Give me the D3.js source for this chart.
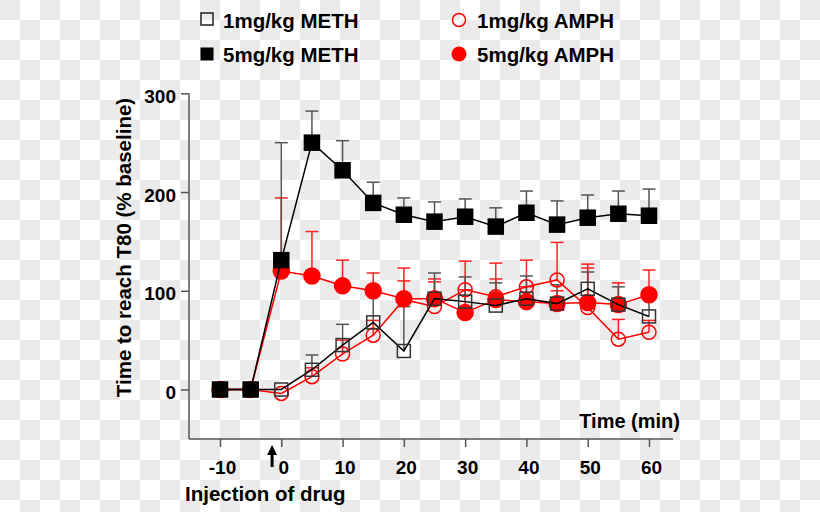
<!DOCTYPE html>
<html>
<head>
<meta charset="utf-8">
<script src="https://cdn.jsdelivr.net/npm/d3@7"></script>
<style>
  html, body { margin: 0; padding: 0; background: #fff; }
  svg { display: block; }
  text { font-family: "Liberation Sans", Arial, Helvetica, sans-serif; font-weight: bold; fill: #000; }
</style>
</head>
<body>
<svg id="chart" width="820" height="512"></svg>
<script>
// ---- data ----
const times = [-10, -5, 0, 5, 10, 15, 20, 25, 30, 35, 40, 45, 50, 55, 60];
const xTicks = [-10, 0, 10, 20, 30, 40, 50, 60];
const yTicks = [0, 100, 200, 300];

const meth1 = [0, 0, 0, 20, 45, 68, 39, 92, 89, 85, 92, 87, 102, 86, 74];
const meth1Top = [0, 0, 0, 35, 66, 98, 84, 118, 114, 108, 115, 106, 119, 104, 92];

const meth5 = [0, 0, 131, 250, 222, 189, 177, 170, 175, 165, 179, 167, 174, 178, 176];
const meth5Top = [0, 0, 250, 282, 252, 210, 194, 190, 193, 184, 201, 191, 197, 201, 203];

const amph1 = [0, 0, -4, 13, 36, 55, 91, 84, 101, 94, 104, 111, 83, 51, 58];
const amph1Top = [0, 0, -4, 22, 50, 70, 110, 109, 130, 112, 131, 149, 123, 71, 70];

const amph5 = [0, 0, 120, 115, 105, 100, 92, 92, 78, 91, 89, 87, 88, 86, 96];
const amph5Top = [0, 0, 194, 160, 131, 118, 123, 112, 101, 128, 104, 100, 127, 108, 121];

const legendLabels = ["1mg/kg METH", "5mg/kg METH", "1mg/kg AMPH", "5mg/kg AMPH"];

// ---- drawing ----
const svg = d3.select("#chart");
const W = 820, H = 512;

// checkerboard background (transparent-image look)
const defs = svg.append("defs");
const pat = defs.append("pattern").attr("id", "checker")
  .attr("width", 40).attr("height", 40).attr("patternUnits", "userSpaceOnUse");
pat.append("rect").attr("width", 40).attr("height", 40).attr("fill", "#ffffff");
pat.append("rect").attr("x", 0).attr("y", 0).attr("width", 20).attr("height", 20).attr("fill", "#ebebeb");
pat.append("rect").attr("x", 20).attr("y", 20).attr("width", 20).attr("height", 20).attr("fill", "#ebebeb");
svg.append("rect").attr("width", W).attr("height", H).attr("fill", "url(#checker)");

const x = d3.scaleLinear().domain([-10, 60]).range([220, 649]);
const y = d3.scaleLinear().domain([0, 300]).range([389.5, 93.3]);

const axisColor = "#555";
const axisX0 = 189, axisY0 = 439;

// axes lines
svg.append("line").attr("x1", axisX0).attr("x2", axisX0).attr("y1", y(300)).attr("y2", axisY0)
  .attr("stroke", axisColor).attr("stroke-width", 1.5);
svg.append("line").attr("x1", axisX0).attr("x2", 673).attr("y1", axisY0).attr("y2", axisY0)
  .attr("stroke", axisColor).attr("stroke-width", 1.5);

const yAxis = svg.append("g").attr("transform", `translate(${axisX0},0)`)
  .call(d3.axisLeft(y).tickValues(yTicks).tickSize(8).tickFormat(d => String(d)));
yAxis.select(".domain").remove();
yAxis.selectAll("line").attr("stroke", axisColor).attr("stroke-width", 1.5);
yAxis.selectAll("text").attr("x", -13).attr("dy", 0).attr("y", 9)
  .style("font-size", "19px").style("font-family", "'Liberation Sans', Arial, sans-serif").style("font-weight", "bold").attr("fill", "#000");

const xAxis = svg.append("g").attr("transform", `translate(0,${axisY0})`)
  .call(d3.axisBottom(x).tickValues(xTicks).tickSize(8).tickFormat(d => String(d)));
xAxis.select(".domain").remove();
xAxis.selectAll("line").attr("stroke", axisColor).attr("stroke-width", 1.5);
xAxis.selectAll("text").attr("y", 35).attr("dy", 0).attr("x", 2)
  .style("font-size", "19px").style("font-family", "'Liberation Sans', Arial, sans-serif").style("font-weight", "bold").attr("fill", "#000");

// axis titles
svg.append("text").attr("x", 680).attr("y", 428).attr("text-anchor", "end")
  .style("font-size", "20px").text("Time (min)");
svg.append("text").attr("transform", `translate(131,${(97 + 398) / 2}) rotate(-90)`)
  .attr("text-anchor", "middle").style("font-size", "20.5px").text("Time to reach T80 (% baseline)");
svg.append("text").attr("x", 185).attr("y", 501).style("font-size", "20.5px").text("Injection of drug");

// injection arrow
const ax = x(-1.5);
svg.append("line").attr("x1", ax).attr("x2", ax).attr("y1", 452).attr("y2", 467)
  .attr("stroke", "#000").attr("stroke-width", 3);
svg.append("path").attr("d", `M${ax},445 L${ax - 5},455 L${ax + 5},455 Z`).attr("fill", "#000");

// series
const series = [
  { vals: amph1, tops: amph1Top, color: "#ff0000", shape: "circle", filled: false, errColor: "#ff2020" },
  { vals: amph5, tops: amph5Top, color: "#ff0000", shape: "circle", filled: true, errColor: "#ff2020" },
  { vals: meth1, tops: meth1Top, color: "#000000", shape: "square", filled: false, errColor: "#555" },
  { vals: meth5, tops: meth5Top, color: "#000000", shape: "square", filled: true, errColor: "#555" }
];

const capW = 13;
// error bars first
series.forEach(s => {
  const g = svg.append("g");
  times.forEach((t, i) => {
    if (s.tops[i] <= s.vals[i]) return;
    const cx = x(t);
    g.append("line").attr("x1", cx).attr("x2", cx).attr("y1", y(s.vals[i])).attr("y2", y(s.tops[i]))
      .attr("stroke", s.errColor).attr("stroke-width", 1.5);
    g.append("line").attr("x1", cx - capW / 2).attr("x2", cx + capW / 2).attr("y1", y(s.tops[i])).attr("y2", y(s.tops[i]))
      .attr("stroke", s.errColor).attr("stroke-width", 1.5);
  });
});

const line = d3.line().x((d, i) => x(times[i])).y(d => y(d));

series.forEach(s => {
  svg.append("path").datum(s.vals).attr("d", line).attr("fill", "none")
    .attr("stroke", s.color).attr("stroke-width", 1.5);
  const g = svg.append("g");
  times.forEach((t, i) => {
    const cx = x(t), cy = y(s.vals[i]);
    if (s.shape === "circle") {
      g.append("circle").attr("cx", cx).attr("cy", cy).attr("r", s.filled ? 8 : 7)
        .attr("fill", s.filled ? s.color : "none").attr("stroke", s.color).attr("stroke-width", 1.5);
    } else {
      const sz = s.filled ? 15 : 13;
      g.append("rect").attr("x", cx - sz / 2).attr("y", cy - sz / 2).attr("width", sz).attr("height", sz)
        .attr("fill", s.filled ? s.color : "none").attr("stroke", s.filled ? s.color : "#333").attr("stroke-width", 1.5);
    }
  });
});

// legend
const leg = svg.append("g");
leg.append("rect").attr("x", 201).attr("y", 13).attr("width", 12).attr("height", 12)
  .attr("fill", "none").attr("stroke", "#222").attr("stroke-width", 1.5);
leg.append("rect").attr("x", 200.5).attr("y", 47.5).attr("width", 13).attr("height", 13).attr("fill", "#000");
leg.append("circle").attr("cx", 459).attr("cy", 20).attr("r", 6.5)
  .attr("fill", "none").attr("stroke", "#ff0000").attr("stroke-width", 1.5);
leg.append("circle").attr("cx", 459).attr("cy", 54).attr("r", 7.5).attr("fill", "#ff0000");
const legPos = [[223, 28], [223, 62], [477, 28], [477, 62]];
legendLabels.forEach((lbl, i) => {
  leg.append("text").attr("x", legPos[i][0]).attr("y", legPos[i][1]).style("font-size", "20.5px").text(lbl);
});
</script>
</body>
</html>
